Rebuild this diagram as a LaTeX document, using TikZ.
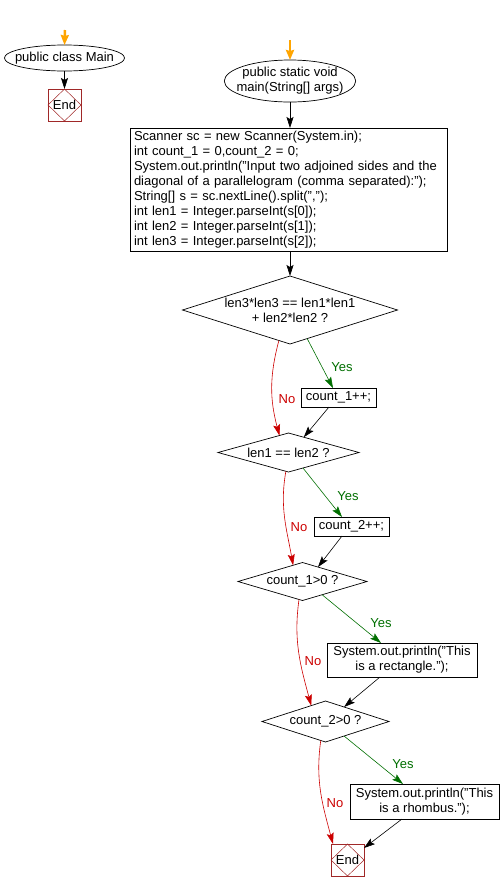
\documentclass[tikz,border=0pt]{standalone}
\usepackage{fontspec}
\setmainfont{Liberation Sans}
\usetikzlibrary{positioning}
\usetikzlibrary{calc}
\usetikzlibrary{shapes.geometric}
\usetikzlibrary{arrows.meta}

\definecolor{yesgreen}{RGB}{0,110,0}
\definecolor{nored}{RGB}{204,0,0}
\definecolor{endred}{RGB}{160,40,40}
\definecolor{startorange}{RGB}{255,165,0}

\begin{document}
\begin{tikzpicture}[x=1pt,y=1pt,
    every node/.style={inner sep=0pt,outer sep=0pt,font=\fontsize{13pt}{15pt}\selectfont},
    startnode/.style={draw,ellipse,line width=0.7pt,align=center,inner xsep=-7pt},
    actionbox/.style={draw,rectangle,line width=0.7pt,align=center},
    decision/.style={draw,diamond,aspect=#1,line width=0.7pt,align=center},
    endbox/.style={draw=endred,rectangle,line width=0.7pt,minimum width=33pt,minimum height=32pt},
    arrowline/.style={-{Stealth[length=11pt,width=7pt,inset=2pt]},line width=0.6pt},
    yesline/.style={arrowline,yesgreen},
    noline/.style={arrowline,nored},
    startline/.style={-{Stealth[length=10pt,width=8pt,inset=1pt]},startorange,line width=2.5pt},
    yeslabel/.style={text=yesgreen},
    nolabel/.style={text=nored}]
          \useasboundingbox (0,0) rectangle (502,-892);
          \coordinate (classtop) at (65,-30);
          \node (classmain) [startnode,minimum width=119pt,minimum height=26pt] at (64.5,-58) {public class Main};
          \node (classend) [endbox] at (64.5,-105) {End};
          \draw [startline] (classtop) to (classmain.north);
          \draw [arrowline] (classmain.south) to (classend.north);
          \coordinate (maintop) at (290,-40);
          \node (mainstart) [startnode,minimum width=129pt,minimum height=42pt] at (290,-81) {public static void\\main(String[] args)};
          \node (init) [actionbox,align=left,minimum width=317pt,minimum height=123pt,text width=309pt] at (288.5,-189.5) {Scanner sc = new Scanner(System.in);\\
                                                                                      int count\_1 = 0,count\_2 = 0;\\
                                                                                      System.out.println("Input two adjoined sides and the\\
                                                                                      diagonal of a parallelogram (comma separated):");\\
                                                                                      String[] s = sc.nextLine().split(",");\\
                                                                                      int len1 = Integer.parseInt(s[0]);\\
                                                                                      int len2 = Integer.parseInt(s[1]);\\
                                                                                      int len3 = Integer.parseInt(s[2]);};
          \draw [startline] (maintop) to (mainstart.north);
          \draw [arrowline] (mainstart.south) to (mainstart.south |- init.north);
          \node (lencheck) [decision=3.16,minimum width=215pt,minimum height=68pt] at (290,-310) {len3*len3 == len1*len1\\+ len2*len2 ?};
          \draw [arrowline] (init.south -| lencheck.north) to (lencheck.north);
          \node (inc1) [actionbox,minimum width=75pt,minimum height=19pt] at (338.5,-397.5) {count\_1++;};
          \node (samecheck) [decision=3.6,minimum width=141pt,minimum height=39pt] at (288.5,-452.5) {len1 == len2 ?};
          \draw [yesline] (lencheck.-59) to ([xshift=-5.5pt]inc1.north);
          \draw [noline] (lencheck.-110) to [out=255,in=105] (samecheck.118);
          \draw [arrowline] ([xshift=-9.5pt]inc1.south) to (samecheck.45);
          \node (yes1) [yeslabel] at (342,-367) {Yes};
          \node (no1) [nolabel] at (287,-399) {No};
          \node (inc2) [actionbox,minimum width=75pt,minimum height=19pt] at (351.5,-526.5) {count\_2++;};
          \node (rectcheck) [decision=3.4,minimum width=129pt,minimum height=38pt] at (302.5,-581.5) {count\_1>0 ?};
          \draw [yesline] (samecheck.-47) to ([xshift=-9.5pt]inc2.north);
          \draw [noline] (samecheck.-98) to [out=260,in=100] (rectcheck.120);
          \draw [arrowline] ([xshift=-9.5pt]inc2.south) to (rectcheck.43);
          \node (yes2) [yeslabel] at (348,-496) {Yes};
          \node (no2) [nolabel] at (299,-527) {No};
          \node (rectout) [actionbox,minimum width=150pt,minimum height=34pt] at (402,-660) {System.out.println("This\\is a rectangle.");};
          \node (rhombcheck) [decision=3.1,minimum width=127pt,minimum height=41pt] at (325.5,-721.5) {count\_2>0 ?};
          \draw [yesline] (rectcheck.-34) to ([xshift=-21pt]rectout.north);
          \draw [noline] (rectcheck.-101) to [out=262,in=105] (rhombcheck.132);
          \draw [arrowline] ([xshift=-22pt]rectout.south) to (rhombcheck.38);
          \node (yes3) [yeslabel] at (381,-623) {Yes};
          \node (no3) [nolabel] at (313,-661) {No};
          \node (rhombout) [actionbox,minimum width=149pt,minimum height=35pt] at (424.5,-801.5) {System.out.println("This\\is a rhombus.");};
          \node (mainend) [endbox] at (347.5,-860) {End};
          \draw [yesline] (rhombcheck.-38) to ([xshift=-21.5pt]rhombout.north);
          \draw [noline] (rhombcheck.-104) to [out=262,in=105] ([xshift=2pt]mainend.north west);
          \draw [arrowline] ([xshift=-22.5pt]rhombout.south) to ([yshift=-4pt]mainend.north east);
          \node (yes4) [yeslabel] at (403,-764) {Yes};
          \node (no4) [nolabel] at (335,-803) {No};
          \foreach \e in {classend,mainend}
            \draw [endred,line width=0.5pt] (\e.north) -- (\e.east) -- (\e.south) -- (\e.west) -- cycle;
        \end{tikzpicture}
\end{document}
